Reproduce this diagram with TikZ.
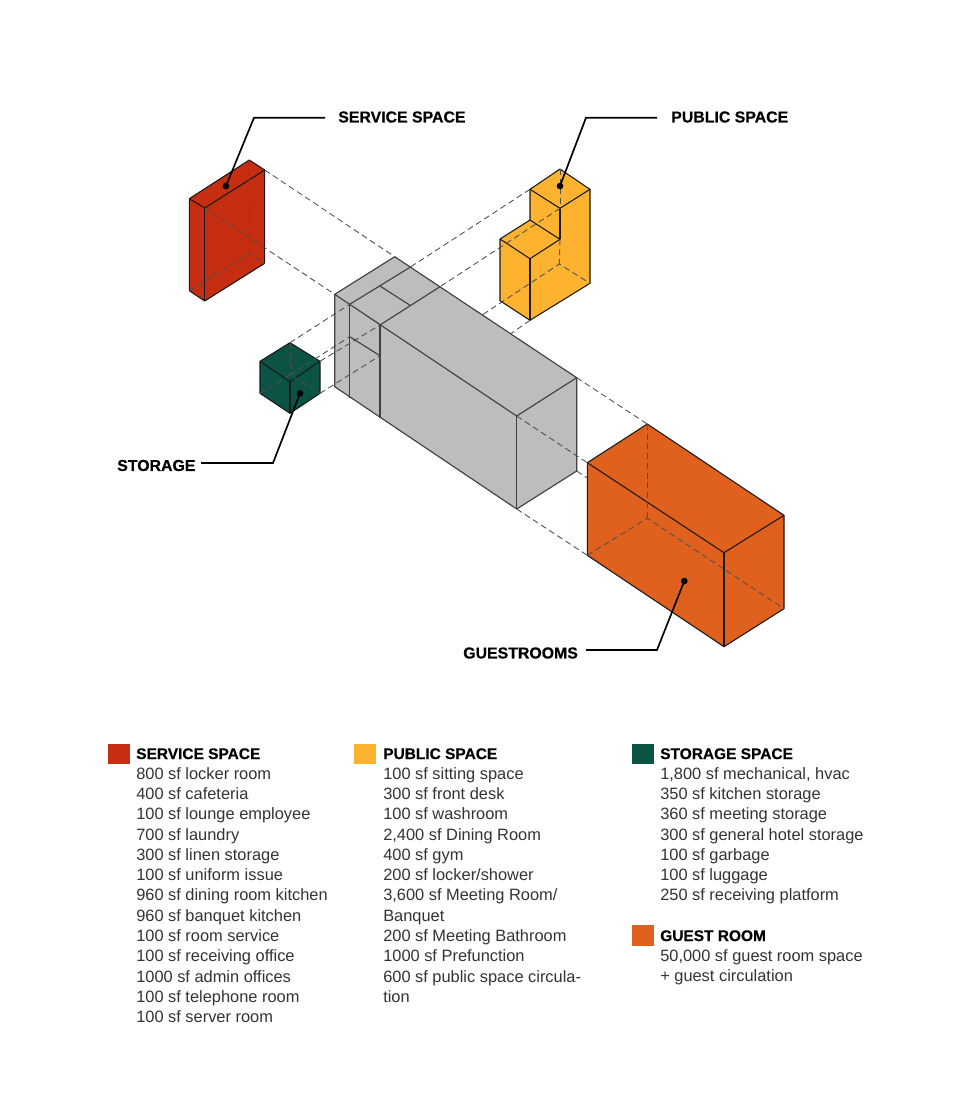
\documentclass[tikz,border=0pt]{standalone}
\usepackage{fontspec}
\setmainfont{Liberation Sans}
\newfontfamily\heavyfont[FakeBold=0.5]{Liberation Sans Bold}
\usetikzlibrary{calc}

\definecolor{serviceRed}{HTML}{C62E12}
\definecolor{publicYellow}{HTML}{FDB32F}
\definecolor{storageGreen}{HTML}{0B5345}
\definecolor{guestOrange}{HTML}{E0601E}
\definecolor{coreGrey}{HTML}{BDBDBD}
\definecolor{hiddenGrey}{HTML}{4F4F4F}
\definecolor{listGrey}{HTML}{333333}

\tikzset{
  edge/.style={line width=0.8pt, line join=round, draw=black!90},
  coreedge/.style={line width=0.85pt, line join=round, draw=black!75},
  hidden/.style={line width=0.65pt, draw=hiddenGrey, dash pattern=on 4.5pt off 2.8pt},
  leader/.style={line width=1.25pt, black, line join=miter},
  leaderdot/.style={circle, fill=black, inner sep=0pt, minimum size=5pt},
  callout/.style={anchor=west, inner sep=0pt, font=\fontsize{11.9}{14}\heavyfont},
  swatch/.style={inner sep=0pt, minimum width=16.5pt, minimum height=15.5pt, anchor=north west},
  listing/.style={anchor=north west, align=left, inner sep=0pt, text=listGrey,
    font=\fontsize{12.3}{15.2}\selectfont},
}
\newcommand{\listhead}[1]{{\heavyfont\color{black}\fontsize{11.6}{15.2}\selectfont #1}}

\begin{document}
\begin{tikzpicture}[x=0.75pt, y=-0.75pt]
\useasboundingbox (0,0) rectangle (960,1101);

% core block
\coordinate (Ca) at (394.7,256.7);
\coordinate (Cb) at (334.7,294.3);
\coordinate (Cc) at (349.7,304.3);
\coordinate (Cd) at (380,325);
\coordinate (Ce) at (410,267.3);
\coordinate (Cf) at (440,286.7);
\coordinate (Cg) at (380,286);
\coordinate (Ch) at (410,305.3);
\coordinate (Ci) at (576.7,377.7);
\coordinate (Cj) at (516.7,416);
\coordinate (Ck) at (334.7,386.7);
\coordinate (Cl) at (349.7,398);
\coordinate (Cm) at (380,417.7);
\coordinate (Cn) at (516.7,509);
\coordinate (Co) at (576.7,471);
\coordinate (Cp) at (349.7,336.7);
\coordinate (Cq) at (380,355.7);
\draw [coreedge, fill=coreGrey] (Ca) -- (Ci) -- (Co) -- (Cn) -- (Ck) -- (Cb) -- cycle;
\draw [coreedge] (Cb) -- (Cj) -- (Ci);
\draw [coreedge] (Cj) -- (Cn);
\draw [coreedge] (Cc) -- (Cl);
\draw [coreedge] (Cd) -- (Cm);
\draw [coreedge] (Cc) -- (Ce);
\draw [coreedge] (Cd) -- (Cf);
\draw [coreedge] (Cg) -- (Ch);
\draw [coreedge] (Cp) -- (Cq);

% service block
\coordinate (Ra) at (249.3,160);
\coordinate (Rb) at (264.7,170);
\coordinate (Rc) at (189.3,198.7);
\coordinate (Rd) at (204.7,208);
\coordinate (Re) at (189.3,290.7);
\coordinate (Rf) at (204.7,301);
\coordinate (Rg) at (264.7,263.3);
\coordinate (Rh) at (249.3,254);
\draw [edge, fill=serviceRed] (Ra) -- (Rb) -- (Rg) -- (Rf) -- (Re) -- (Rc) -- cycle;
\draw [edge] (Rc) -- (Rd) -- (Rb);
\draw [edge] (Rd) -- (Rf);
\draw [hidden] (Ra) -- (Rh);
\draw [hidden] (Re) -- (Rh) -- (Rg);
\draw [hidden] (Rb) -- (Ca);
\draw [hidden] (Rd) -- (Cb);

% public block
\coordinate (Pa) at (560,169);
\coordinate (Pb) at (590,189.3);
\coordinate (Pc) at (530,189.3);
\coordinate (Pd) at (560,208.3);
\coordinate (Pe) at (530,220);
\coordinate (Pf) at (560,239.3);
\coordinate (Pg) at (500,239);
\coordinate (Ph) at (530,258.7);
\coordinate (Pi) at (500,300.7);
\coordinate (Pj) at (530,320.3);
\coordinate (Pk) at (590,283.3);
\coordinate (Pl) at (559.3,264);
\coordinate (Pm) at (483,314.5);
\coordinate (Pn) at (511,333.6);
\draw [edge, fill=publicYellow] (Pa) -- (Pb) -- (Pk) -- (Pj) -- (Pi) -- (Pg) -- (Pe) -- (Pc) -- cycle;
\draw [edge] (Pc) -- (Pd) -- (Pb);
\draw [edge] (Pd) -- (Pf);
\draw [edge] (Pe) -- (Pf) -- (Ph) -- (Pg);
\draw [edge] (Ph) -- (Pj);
\draw [hidden] (Pa) -- (Pd);
\draw [hidden] (Pf) -- (Pl);
\draw [hidden] (Pm) -- (Pl) -- (Pk);
\draw [hidden] (Pj) -- (Pn);
\draw [hidden] (Pc) -- (Ce);
\draw [hidden] (Pd) -- (Cf);

% storage block
\coordinate (Sa) at (290,342.7);
\coordinate (Sb) at (320,361.3);
\coordinate (Sc) at (260,361.3);
\coordinate (Sd) at (290,381.7);
\coordinate (Se) at (260,393.3);
\coordinate (Sf) at (290,413.3);
\coordinate (Sg) at (320,393.3);
\coordinate (Sh) at (290,375);
\draw [edge, fill=storageGreen] (Sa) -- (Sb) -- (Sg) -- (Sf) -- (Se) -- (Sc) -- cycle;
\draw [edge] (Sc) -- (Sd) -- (Sb);
\draw [edge] (Sd) -- (Sf);
\draw [hidden] (Sa) -- (Sh);
\draw [hidden] (Se) -- (Sh) -- (Sg);
\draw [hidden] (Sa) -- (Cc);
\draw [hidden] (Sh) -- (Cp);
\draw [hidden] (Sb) -- (Cd);
\draw [hidden] (Sg) -- (Cq);

% guest block
\coordinate (Ga) at (647.3,424);
\coordinate (Gb) at (587.3,462.7);
\coordinate (Gc) at (724,552.7);
\coordinate (Gd) at (784,515.3);
\coordinate (Ge) at (587.3,555.3);
\coordinate (Gf) at (724,646.7);
\coordinate (Gg) at (784,608.7);
\coordinate (Gh) at (647.3,518.3);
\coordinate (Gi) at (587.3,478);
\draw [edge, fill=guestOrange] (Ga) -- (Gd) -- (Gg) -- (Gf) -- (Ge) -- (Gb) -- cycle;
\draw [edge] (Gb) -- (Gc) -- (Gd);
\draw [edge] (Gc) -- (Gf);
\draw [hidden] (Ga) -- (Gh);
\draw [hidden] (Ge) -- (Gh) -- (Gg);
\draw [hidden] (Ci) -- (Ga);
\draw [hidden] (Cj) -- (Gb);
\draw [hidden] (Co) -- (Gi);
\draw [hidden] (Cn) -- (Ge);

% callouts
\node [callout] (lblservice) at (338,117) {SERVICE SPACE};
\node [callout] (lblpublic) at (671,117) {PUBLIC SPACE};
\node [callout] (lblstorage) at (117,465.5) {STORAGE};
\node [callout] (lblguest) at (463,653) {GUESTROOMS};

\node [leaderdot] (dotservice) at (226,186) {};
\node [leaderdot] (dotpublic) at (560,186) {};
\node [leaderdot] (dotstorage) at (300,393.3) {};
\node [leaderdot] (dotguest) at (684.3,581) {};

\coordinate (Lsa) at (254,117.7);
\coordinate (Lsb) at (325,117.7);
\coordinate (Lpa) at (586,117.7);
\coordinate (Lpb) at (657,117.7);
\coordinate (Lta) at (273,463);
\coordinate (Ltb) at (201,463);
\coordinate (Lga) at (657,650);
\coordinate (Lgb) at (586,650);
\draw [leader] (dotservice.center) -- (Lsa) -- (Lsb);
\draw [leader] (dotpublic.center) -- (Lpa) -- (Lpb);
\draw [leader] (dotstorage.center) -- (Lta) -- (Ltb);
\draw [leader] (dotguest.center) -- (Lga) -- (Lgb);

% legend
\node [swatch, fill=serviceRed] (swservice) at (107.5,743.5) {};
\node [swatch, fill=publicYellow] (swpublic) at (354,743.5) {};
\node [swatch, fill=storageGreen] (swstorage) at (632,743.5) {};
\node [swatch, fill=guestOrange] (swguest) at (632,925) {};

\node [listing] (listservice) at (136,748) {\listhead{SERVICE SPACE}\\
800 sf locker room\\
400 sf cafeteria\\
100 sf lounge employee\\
700 sf laundry\\
300 sf linen storage\\
100 sf uniform issue\\
960 sf dining room kitchen\\
960 sf banquet kitchen\\
100 sf room service\\
100 sf receiving office\\
1000 sf admin offices\\
100 sf telephone room\\
100 sf server room};

\node [listing] (listpublic) at (383,748) {\listhead{PUBLIC SPACE}\\
100 sf sitting space\\
300 sf front desk\\
100 sf washroom\\
2,400 sf Dining Room\\
400 sf gym\\
200 sf locker/shower\\
3,600 sf Meeting Room/\\
Banquet\\
200 sf Meeting Bathroom\\
1000 sf Prefunction\\
600 sf public space circula-\\
tion};

\node [listing] (liststorage) at (660,748) {\listhead{STORAGE SPACE}\\
1,800 sf mechanical, hvac\\
350 sf kitchen storage\\
360 sf meeting storage\\
300 sf general hotel storage\\
100 sf garbage\\
100 sf luggage\\
250 sf receiving platform};

\node [listing] (listguest) at (660,930) {\listhead{GUEST ROOM}\\
50,000 sf guest room space\\
+ guest circulation};

\end{tikzpicture}
\end{document}
